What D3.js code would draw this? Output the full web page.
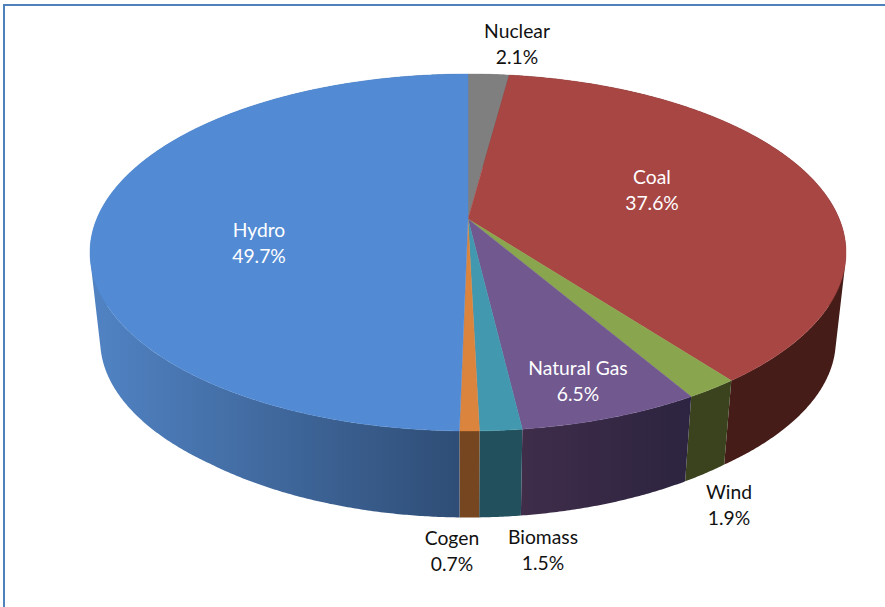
<!DOCTYPE html>
<html><head><meta charset="utf-8">
<style>html,body{margin:0;padding:0;background:#fff}svg{display:block}text{font-family:Lato,"Open Sans",sans-serif;font-size:19.3px}</style>
<script src="https://cdn.jsdelivr.net/npm/d3@7"></script></head><body><svg id="c" width="885" height="607"></svg>
<script>
const categories=["Nuclear","Coal","Wind","Natural Gas","Biomass","Cogen","Hydro"];
const shares=[2.1,37.6,1.9,6.5,1.5,0.7,49.7];
const topColors=["#7f7f7f","#a84644","#89a54e","#71588f","#4198af","#db843d","#528ad4"];
const wallStart=["#4c4c4c","#451c18","#3a431e","#3f2d4a","#22505c","#75461f","#5183c4"];
const wallEnd=["#4c4c4c","#451c18","#3a431e","#2c2440","#22505c","#75461f","#2e4c74"];
const labelX=[517,652,729,578,543,452,259];
const labelY=[31,177,492,368,537,538,230];
const labelFill=["#111","#fff","#111","#fff","#111","#111","#fff"];

const W=885,H=607,cx=468,apexY=219,A=371.3,B=172.2,k=0.1877;
const svg=d3.select("#c");
const defs=svg.append("defs");
const project=t=>{const u=Math.sin(t),v=Math.cos(t),w=1+k*v;return [cx+A*u/w,apexY-B*v/w];};
const depth=d3.scaleLinear().domain([250,380,431]).range([88,84,86.5]);
const lower=([x,y])=>[cx+(x-cx)*0.973,y+depth(y)];
const line=d3.line();
const arcs=d3.pie().sort(null).startAngle(0).endAngle(2*Math.PI)(shares);
const sample=(a0,a1,step)=>{const n=Math.max(2,Math.ceil((a1-a0)/step));const s=d3.scaleLinear().domain([0,n]).range([a0,a1]);return d3.range(n+1).map(i=>project(s(i)));};

const walls=svg.append("g");
arcs.forEach((d,i)=>{
  const rim=sample(d.startAngle,d.endAngle,0.006);
  const id="w"+i;
  const g=defs.append("linearGradient").attr("id",id).attr("x1",0).attr("x2",1).attr("y1",0).attr("y2",0);
  g.append("stop").attr("offset",0).attr("stop-color",wallStart[i]);
  g.append("stop").attr("offset",1).attr("stop-color",wallEnd[i]);
  // every strip gets the same winding so the path is a clean union with no seams
  const strips=d3.pairs(rim).map(([p,q])=>{
    const poly=[p,q,lower(q),lower(p)];
    return line(d3.polygonArea(poly)<0?poly.slice().reverse():poly)+"Z";
  });
  walls.append("path").attr("d",strips.join("")).attr("fill",`url(#${id})`).attr("fill-rule","nonzero");
});
const tops=svg.append("g");
arcs.forEach((d,i)=>{
  const rim=sample(d.startAngle,d.endAngle,0.005);
  tops.append("path").attr("d",line([[cx,apexY],...rim])+"Z").attr("fill",topColors[i]).attr("stroke",topColors[i]).attr("stroke-width",0.4);
});
const labels=svg.append("g").attr("text-anchor","middle");
categories.forEach((c,i)=>{
  const t=labels.append("text").attr("fill",labelFill[i]);
  t.append("tspan").attr("x",labelX[i]).attr("y",labelY[i]+7).text(c);
  t.append("tspan").attr("x",labelX[i]).attr("y",labelY[i]+33).text(d3.format(".1f")(shares[i])+"%");
});
const frame=svg.append("g").attr("stroke","#4f81bd").attr("stroke-width",2).attr("fill","none");
frame.append("path").attr("d",line([[4,H],[4,5],[W,5]]));
</script></body></html>
